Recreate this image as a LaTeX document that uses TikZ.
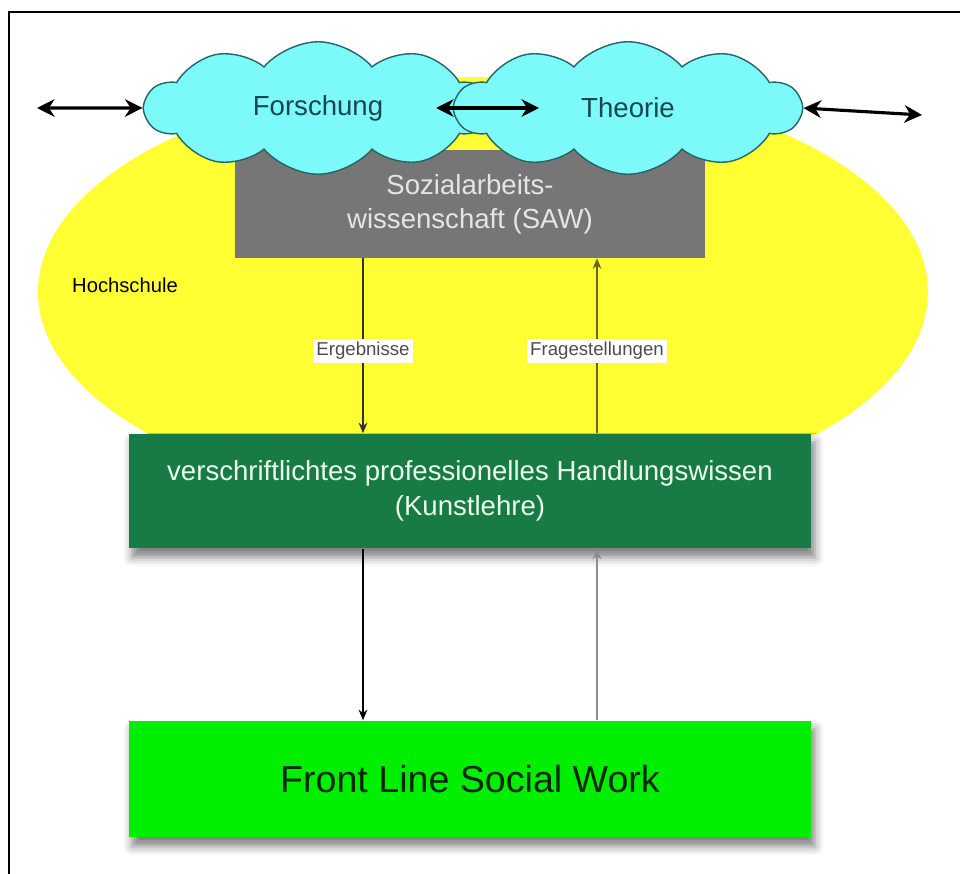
\documentclass[tikz,border=0pt]{standalone}
\usepackage{fontspec}
\setmainfont{Liberation Sans}
\usetikzlibrary{arrows.meta, shapes.geometric, shapes.symbols, shadows.blur}
\tikzset{>=stealth}
\definecolor{gelb}{RGB}{255,255,51}
\definecolor{wolkenblau}{RGB}{124,250,250}
\definecolor{wolkenrand}{RGB}{40,100,100}
\definecolor{wolkentext}{RGB}{25,70,80}
\definecolor{sawgrau}{RGB}{118,118,118}
\definecolor{dunkelgruen}{RGB}{24,122,68}
\definecolor{hellgruen}{RGB}{0,238,0}
\tikzset{
  wolke/.style={cloud, cloud puffs=10, cloud puff arc=100, aspect=2.6, draw=wolkenrand,
    line width=0.8pt, fill=wolkenblau, minimum width=6.9cm, minimum height=2.65cm,
    inner sep=0pt, text=wolkentext, font=\fontsize{15.7}{19}\selectfont},
  kasten/.style={rectangle, inner sep=0pt, align=center},
  schatten/.style={blur shadow={shadow xshift=2pt, shadow yshift=-5pt, shadow blur radius=5pt, shadow opacity=50}},
  marke/.style={fill=white, inner sep=2pt, font=\fontsize{10.6}{12}\selectfont, text=black!70},
  pfeil/.style={-{Stealth[length=6pt,width=5pt]}, line width=0.6pt},
  doppelpfeil/.style={{Stealth[length=10pt,width=10pt]}-{Stealth[length=10pt,width=10pt]}, line width=1.8pt}
}

\begin{document}
\begin{tikzpicture}[x=0.02cm, y=-0.02cm]
    \useasboundingbox (0,0) rectangle (960,874);
    \draw [line width=1.2pt] (9,874) -- (9,12) -- (960,12);
    % Hochschule
    \node [ellipse, fill=gelb, minimum width=17.8cm, minimum height=8.6cm, inner sep=0pt] (hochschule) at (483,292) {};
    \node [anchor=west, font=\fontsize{11.5}{13}\selectfont] (hslabel) at (66,285) {Hochschule};
    \node [kasten, fill=sawgrau, minimum width=9.4cm, minimum height=2.16cm, text=black!10,
        font=\fontsize{15.7}{19.3}\selectfont] (saw) at (470,204) {Sozialarbeits-\\wissenschaft (SAW)};
    % Wolken
    \node [wolke] (forschung) at (318,108) {Forschung};
    \node [wolke] (theorie) at (628,108) {Theorie};
    \coordinate (linksaussen) at (37,108);
    \coordinate (rechtsaussen) at (922,115);
    \coordinate (mitteL) at (436,108);
    \coordinate (mitteR) at (539,108);
    \draw [doppelpfeil] (linksaussen) -- (forschung.west);
    \draw [doppelpfeil] (mitteL) -- (mitteR);
    \draw [doppelpfeil] (theorie.east) -- (rechtsaussen);
    % Kaesten
    \node [kasten, fill=dunkelgruen, schatten, minimum width=13.66cm, minimum height=2.3cm, text=black!8!green!8,
        font=\fontsize{15.7}{19.8}\selectfont] (handlung) at (470,491) {verschriftlichtes professionelles Handlungswissen\\(Kunstlehre)};
    \node [kasten, fill=hellgruen, schatten, minimum width=13.66cm, minimum height=2.34cm, text=black!85!green,
        font=\fontsize{21.4}{25}\selectfont] (frontline) at (470,779) {Front Line Social Work};
    % Pfeile
    \coordinate (ergx) at (363,0);
    \coordinate (fragx) at (597,0);
    \draw [pfeil, black!80] (saw.south -| ergx) -- (handlung.north -| ergx) node [marke, pos=0.53] (ergebnisse) {Ergebnisse};
    \draw [pfeil, black!60!gelb] (handlung.north -| fragx) -- (saw.south -| fragx) node [marke, pos=0.47] (fragen) {Fragestellungen};
    \draw [pfeil, black] (handlung.south -| ergx) -- (frontline.north -| ergx);
    \draw [pfeil, black!45] (frontline.north -| fragx) -- (handlung.south -| fragx);
\end{tikzpicture}
\end{document}
